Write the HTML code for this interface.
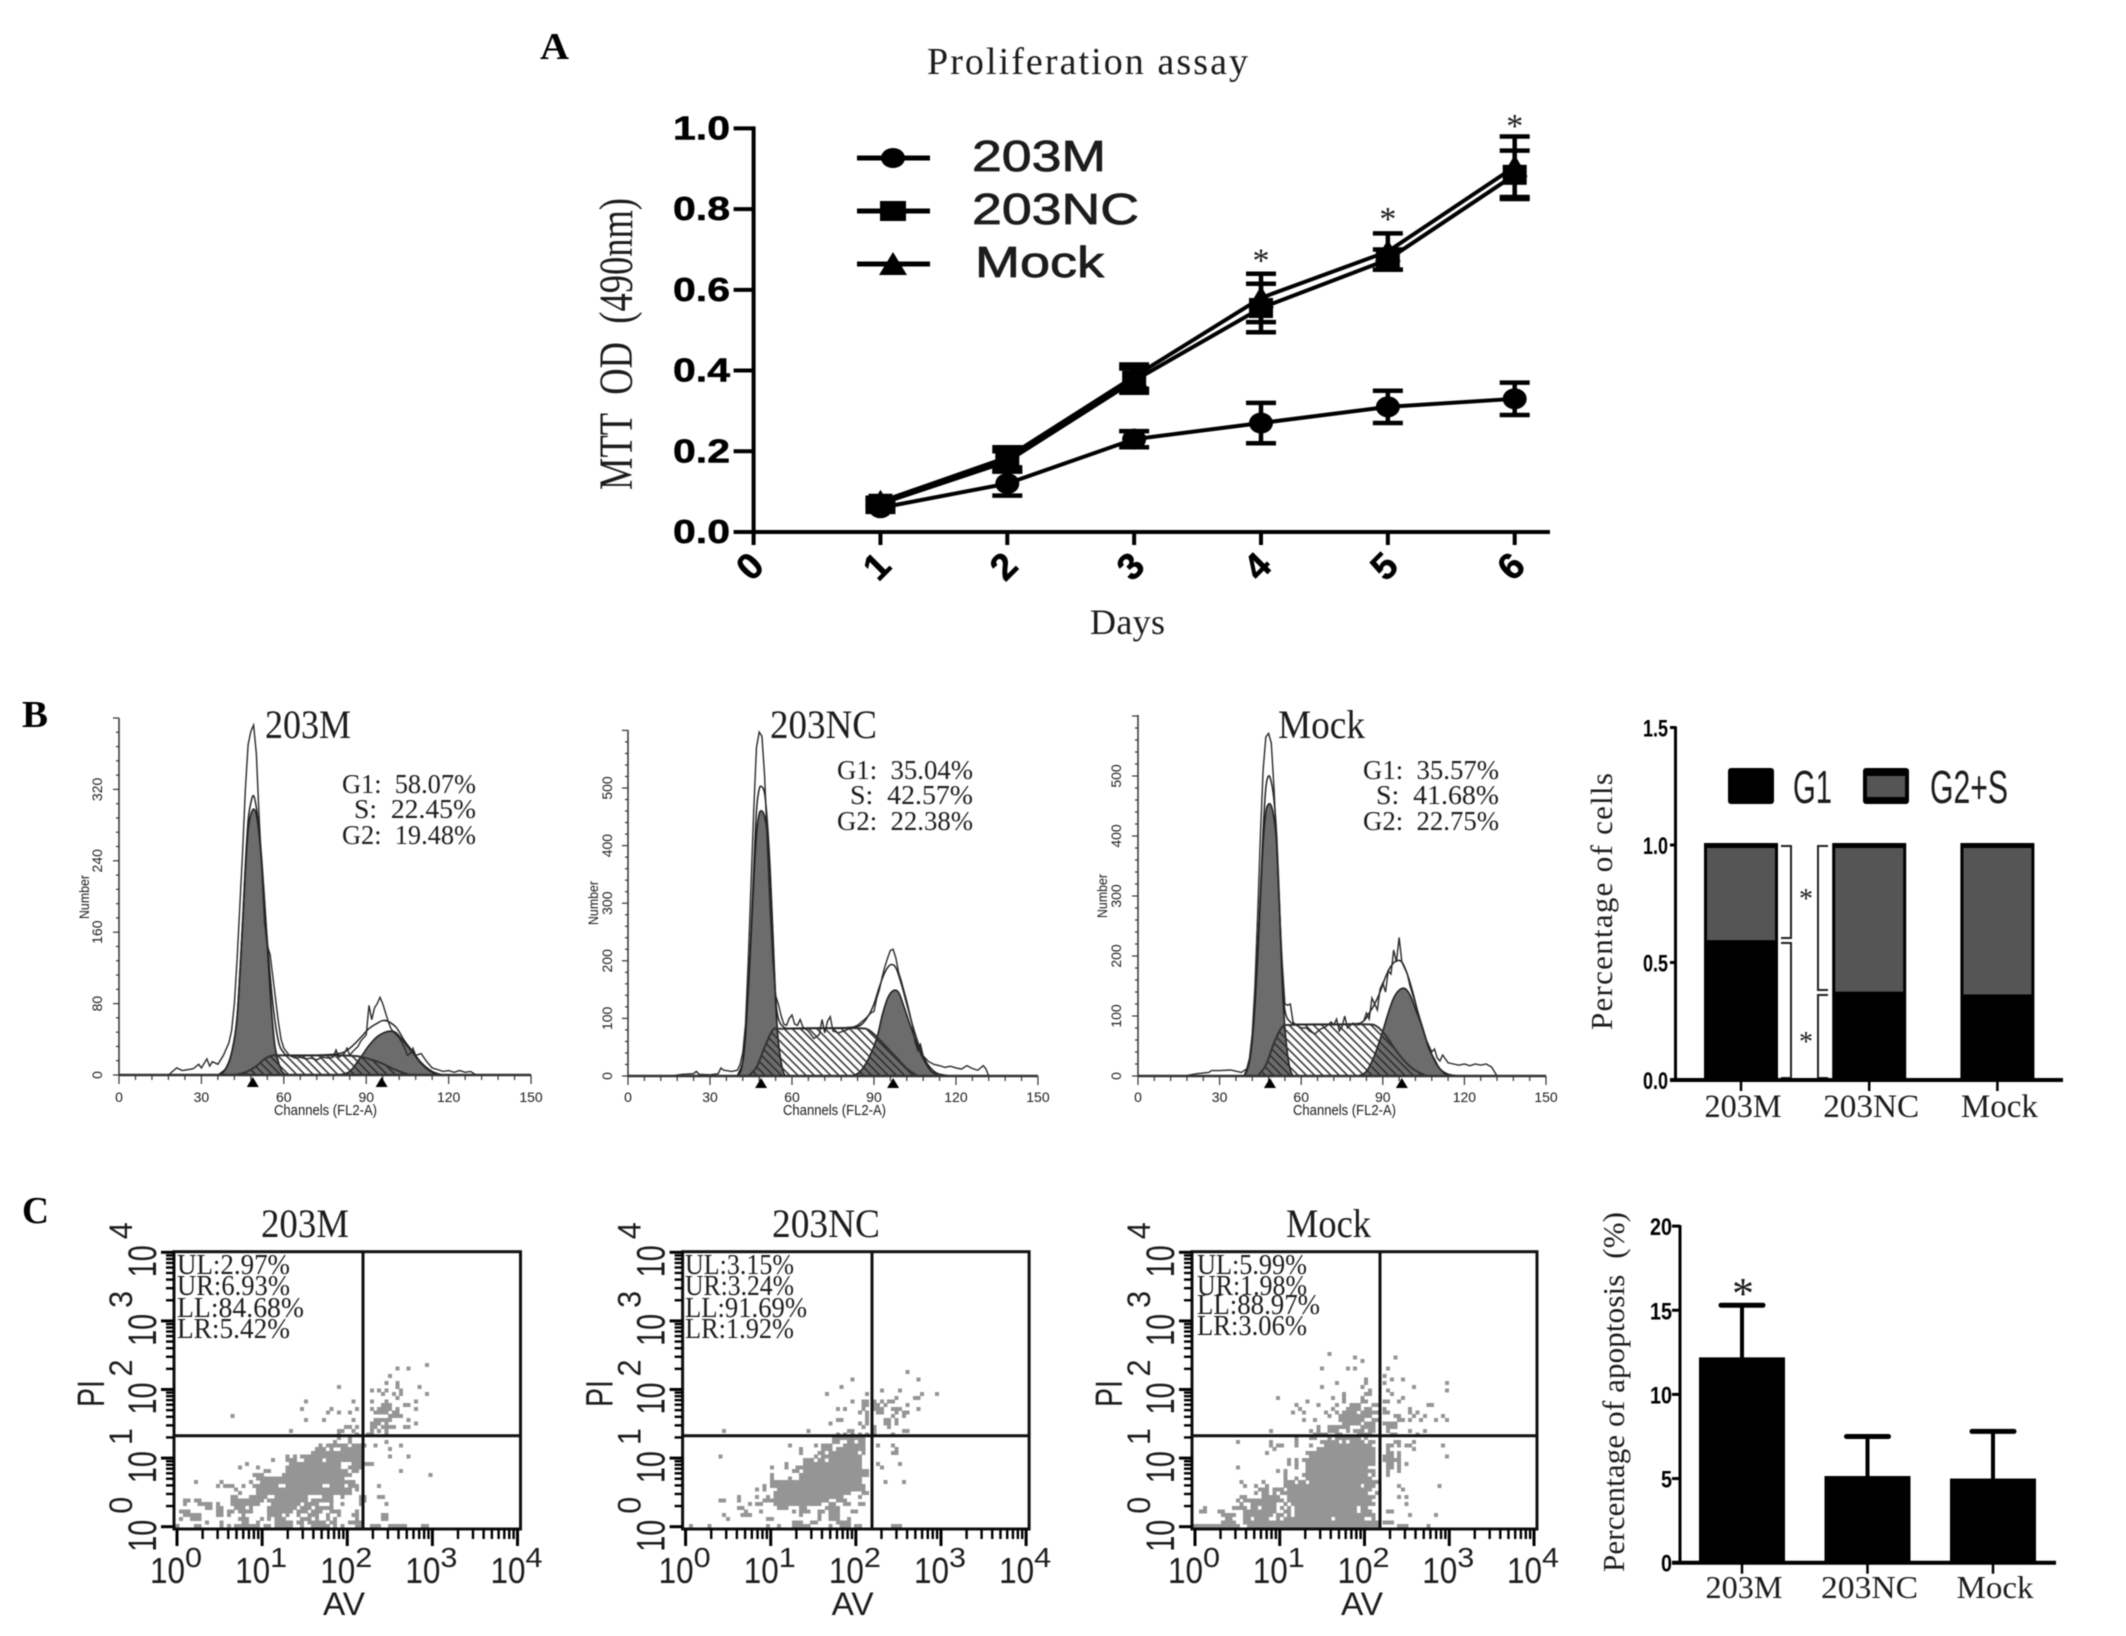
<!DOCTYPE html>
<html lang="en">
<head>
<meta charset="utf-8">
<title>Proliferation, cell cycle and apoptosis figure</title>
<style>
html,body{margin:0;padding:0;background:#fff;}
svg{display:block;filter:blur(0.4px);}
text{font-family:"Liberation Serif","Noto Serif CJK SC",serif;fill:#1c1c1c;}
.sans{font-family:"Liberation Sans","Noto Sans CJK SC",sans-serif;}
.bold{font-family:"Liberation Sans",sans-serif;font-weight:bold;fill:#000;}
.cap{font-family:"Liberation Serif",serif;font-weight:bold;fill:#000;}
</style>
</head>
<body>
<svg id="fig" xmlns="http://www.w3.org/2000/svg" width="2126" height="1636" viewBox="0 0 2126 1636">
<defs>
<pattern id="hatch" patternUnits="userSpaceOnUse" width="5.8" height="5.8" patternTransform="rotate(-45)">
<line x1="1" y1="0" x2="1" y2="5.8" stroke="#2a2a2a" stroke-width="1.5"/>
</pattern>
</defs>
<rect x="0" y="0" width="2126" height="1636" fill="#fff"/>

<!-- panel letters -->
<text class="cap" x="540" y="59" font-size="38" textLength="29" lengthAdjust="spacingAndGlyphs">A</text>
<text class="cap" x="22" y="727" font-size="38" textLength="26" lengthAdjust="spacingAndGlyphs">B</text>
<text class="cap" x="22" y="1223" font-size="38" textLength="27" lengthAdjust="spacingAndGlyphs">C</text>

<!-- panel A text -->
<text x="927" y="74" font-size="38" textLength="321" lengthAdjust="spacing">Proliferation assay</text>
<text x="1090" y="634" font-size="36" textLength="75" lengthAdjust="spacing">Days</text>
<text transform="translate(632,490) rotate(-90)" font-size="48" textLength="292" lengthAdjust="spacingAndGlyphs">MTT&#160;&#160;OD&#160;&#160;(490nm)</text>
<g>
<line x1="857" y1="158" x2="930" y2="158" stroke="#000" stroke-width="5"/>
<ellipse cx="893" cy="158" rx="12" ry="10" fill="#000"/>
<text class="sans" x="972" y="171" font-size="44" textLength="134" lengthAdjust="spacingAndGlyphs" stroke="#1c1c1c" stroke-width="0.8">203M</text>
<line x1="857" y1="211" x2="930" y2="211" stroke="#000" stroke-width="5"/>
<rect x="880" y="201" width="26" height="20" fill="#000"/>
<text class="sans" x="972" y="224" font-size="44" textLength="167" lengthAdjust="spacingAndGlyphs" stroke="#1c1c1c" stroke-width="0.8">203NC</text>
<line x1="857" y1="264" x2="930" y2="264" stroke="#000" stroke-width="5"/>
<polygon points="893,252 907,275 879,275" fill="#000"/>
<text class="sans" x="975" y="277" font-size="44" textLength="129" lengthAdjust="spacingAndGlyphs" stroke="#1c1c1c" stroke-width="0.8">Mock</text>
</g>

<!-- panel B text -->
<text x="265" y="738" font-size="40" textLength="86" lengthAdjust="spacingAndGlyphs">203M</text>
<text x="770" y="738" font-size="40" textLength="107" lengthAdjust="spacingAndGlyphs">203NC</text>
<text x="1278" y="738" font-size="40" textLength="87" lengthAdjust="spacingAndGlyphs">Mock</text>
<g font-size="27">
<text x="342" y="793" textLength="134" lengthAdjust="spacingAndGlyphs">G1:&#160;&#160;58.07%</text>
<text x="354" y="818" textLength="122" lengthAdjust="spacingAndGlyphs">S:&#160;&#160;22.45%</text>
<text x="342" y="844" textLength="134" lengthAdjust="spacingAndGlyphs">G2:&#160;&#160;19.48%</text>
</g>
<g font-size="27">
<text x="837" y="779" textLength="136" lengthAdjust="spacingAndGlyphs">G1:&#160;&#160;35.04%</text>
<text x="850" y="804" textLength="123" lengthAdjust="spacingAndGlyphs">S:&#160;&#160;42.57%</text>
<text x="837" y="830" textLength="136" lengthAdjust="spacingAndGlyphs">G2:&#160;&#160;22.38%</text>
</g>
<g font-size="27">
<text x="1363" y="779" textLength="136" lengthAdjust="spacingAndGlyphs">G1:&#160;&#160;35.57%</text>
<text x="1376" y="804" textLength="123" lengthAdjust="spacingAndGlyphs">S:&#160;&#160;41.68%</text>
<text x="1363" y="830" textLength="136" lengthAdjust="spacingAndGlyphs">G2:&#160;&#160;22.75%</text>
</g>
<text transform="translate(1612,1030) rotate(-90)" font-size="31" textLength="257" lengthAdjust="spacing">Percentage&#160;of&#160;cells</text>
<g>
<rect x="1728" y="768" width="46" height="36" rx="3" fill="#000"/>
<text class="sans" x="1793" y="803" font-size="46" textLength="39" lengthAdjust="spacingAndGlyphs">G1</text>
<rect x="1863" y="768" width="46" height="36" rx="3" fill="#000"/>
<rect x="1867" y="776" width="38" height="21" fill="#555"/>
<text class="sans" x="1930" y="803" font-size="46" textLength="78" lengthAdjust="spacingAndGlyphs">G2+S</text>
</g>
<g fill="none" stroke="#222" stroke-width="2">
<path d="M1781 846H1791V938H1781"/>
<path d="M1781 943H1791V1078H1781"/>
<path d="M1828 846H1818V990H1828"/>
<path d="M1828 995H1818V1078H1828"/>
</g>
<text x="1806" y="908" font-size="28" text-anchor="middle">*</text>
<text x="1806" y="1051" font-size="28" text-anchor="middle">*</text>

<!-- panel C text -->
<text x="261" y="1237" font-size="40" textLength="88" lengthAdjust="spacingAndGlyphs">203M</text>
<text x="772" y="1237" font-size="40" textLength="108" lengthAdjust="spacingAndGlyphs">203NC</text>
<text x="1286" y="1237" font-size="40" textLength="85" lengthAdjust="spacingAndGlyphs">Mock</text>
<g font-size="28">
<text x="177" y="1274" textLength="113" lengthAdjust="spacingAndGlyphs">UL:2.97%</text>
<text x="177" y="1295" textLength="113" lengthAdjust="spacingAndGlyphs">UR:6.93%</text>
<text x="177" y="1317" textLength="127" lengthAdjust="spacingAndGlyphs">LL:84.68%</text>
<text x="177" y="1338" textLength="113" lengthAdjust="spacingAndGlyphs">LR:5.42%</text>
</g>
<g font-size="28">
<text x="685" y="1274" textLength="109" lengthAdjust="spacingAndGlyphs">UL:3.15%</text>
<text x="685" y="1295" textLength="109" lengthAdjust="spacingAndGlyphs">UR:3.24%</text>
<text x="685" y="1317" textLength="122" lengthAdjust="spacingAndGlyphs">LL:91.69%</text>
<text x="685" y="1338" textLength="109" lengthAdjust="spacingAndGlyphs">LR:1.92%</text>
</g>
<g font-size="28">
<text x="1197" y="1274" textLength="110" lengthAdjust="spacingAndGlyphs">UL:5.99%</text>
<text x="1197" y="1295" textLength="110" lengthAdjust="spacingAndGlyphs">UR:1.98%</text>
<text x="1197" y="1314" textLength="123" lengthAdjust="spacingAndGlyphs">LL:88.97%</text>
<text x="1197" y="1335" textLength="110" lengthAdjust="spacingAndGlyphs">LR:3.06%</text>
</g>
<text transform="translate(1624,1572) rotate(-90)" font-size="31" textLength="360" lengthAdjust="spacing">Percentage&#160;of&#160;apoptosis&#160;&#160;(%)</text>
<text x="1743" y="1308" font-size="44" text-anchor="middle">*</text>
</svg>

<script>
/* ---------- Panel A: proliferation line chart ---------- */
const days = [1, 2, 3, 4, 5, 6];
const aYTicks = [0, 0.2, 0.4, 0.6, 0.8, 1.0];
const aXTicks = [0, 1, 2, 3, 4, 5, 6];
const mean203M = [0.06, 0.12, 0.23, 0.27, 0.31, 0.33];
const err203M = [0.01, 0.03, 0.02, 0.05, 0.04, 0.04];
const mean203NC = [0.07, 0.175, 0.375, 0.555, 0.675, 0.885];
const err203NC = [0.01, 0.025, 0.03, 0.06, 0.025, 0.06];
const meanMock = [0.075, 0.185, 0.385, 0.58, 0.695, 0.905];
const errMock = [0.01, 0.025, 0.03, 0.06, 0.045, 0.075];
const starDays = [4, 5, 6];
const starValues = [0.685, 0.788, 1.018];

/* ---------- Panel B: cycle histograms, [channel, count] ---------- */
const cycleXTicks = [0, 30, 60, 90, 120, 150];
const cycle1YTicks = [0, 80, 160, 240, 320];
const cycle2YTicks = [0, 100, 200, 300, 400, 500];
const cycle3YTicks = [0, 100, 200, 300, 400, 500];
const cycle1Peaks = [48.7, 95.6];
const cycle2Peaks = [48.7, 97];
const cycle3Peaks = [48.5, 97];

const h1G1 = [[37,0],[39,8],[41,25],[43,65],[45,170],[46,230],[47,275],[48,292],[49,298],[50,292],[51,270],[52,235],[53,190],[54,145],[55,95],[56,55],[57,28],[59,6],[61,0]];
const h1S = [[42,0],[46,3],[50,10],[53,18],[56,22],[60,22],[70,22],[80,22],[87,21],[91,18],[95,14],[99,8],[103,3],[106,0]];
const h1G2 = [[80,0],[84,4],[88,20],[91,33],[94,43],[97,48],[99,49],[101,47],[104,36],[107,25],[110,13],[114,3],[118,0]];
const h1Fit = [[36,0],[39,8],[41,25],[43,65],[45,170],[46,235],[47,285],[48,305],[49,313],[50,300],[51,275],[52,240],[53,195],[54,150],[56,80],[58,38],[60,25],[62,22],[70,22],[80,24],[84,30],[88,42],[91,52],[94,58],[96,61],[98,60],[101,53],[104,38],[107,26],[110,14],[114,4],[118,0]];
const h1Raw = [[18,0],[21,8],[23,5],[25,6],[27,7],[29,12],[30,8],[32,18],[33,10],[34,15],[36,12],[38,22],[40,36],[41,50],[42,80],[43,130],[44,190],[45,250],[46,320],[47,370],[48,385],[49,392],[50,360],[51,290],[52,230],[53,170],[54,145],[55,135],[56,110],[57,85],[58,60],[59,40],[60,30],[62,22],[64,19],[66,20],[68,18],[70,19],[72,17],[74,20],[76,19],[78,20],[79,28],[80,20],[82,24],[83,30],[84,22],[85,26],[87,32],[88,38],[90,45],[91,78],[92,62],[93,75],[94,80],[95,87],[96,80],[97,70],[98,60],[99,52],[100,48],[102,42],[104,30],[105,22],[106,24],[107,30],[108,22],[110,24],[112,15],[114,8],[116,6],[118,4],[120,5],[122,3],[124,5],[126,3],[128,4],[130,0]];

const h2G1 = [[40,0],[42,25],[43,70],[44,150],[45,240],[46,340],[47,420],[48,455],[49,460],[50,450],[51,420],[52,350],[53,240],[54,130],[55,60],[56,25],[57,5],[58,0]];
const h2S = [[44,0],[47,15],[50,50],[53,80],[56,82],[65,83],[75,83],[85,83],[88,80],[91,68],[95,48],[98,33],[102,13],[106,0]];
const h2G2 = [[82,0],[85,8],[88,30],[91,65],[93,105],[95,135],[97,148],[99,145],[101,120],[103,92],[105,65],[107,40],[109,22],[111,8],[114,0]];
const h2Fit = [[40,0],[42,25],[44,150],[45,250],[46,360],[47,460],[48,498],[49,502],[50,490],[51,440],[52,360],[53,250],[54,140],[55,100],[57,85],[60,82],[70,83],[80,84],[85,88],[88,105],[90,125],[92,155],[94,180],[96,193],[98,188],[100,160],[102,125],[104,90],[106,60],[108,35],[110,18],[113,5],[118,0]];
const h2Raw = [[17,1],[20,3],[24,4],[25,8],[26,3],[30,2],[33,4],[34,14],[35,10],[38,8],[40,10],[41,20],[42,40],[43,90],[44,200],[45,330],[46,460],[47,570],[48,597],[49,590],[50,520],[51,400],[52,290],[53,200],[54,140],[55,125],[56,105],[57,90],[58,88],[59,100],[60,106],[61,90],[62,88],[63,98],[64,85],[66,78],[68,65],[70,72],[71,98],[72,75],[73,95],[74,103],[75,78],[77,75],[79,78],[81,82],[84,88],[87,100],[89,110],[90,112],[91,135],[92,150],[93,172],[94,190],[95,205],[96,218],[97,220],[98,205],[99,180],[100,165],[102,130],[104,90],[105,60],[106,45],[107,55],[108,35],[110,25],[112,20],[114,18],[116,15],[118,17],[120,14],[122,12],[124,18],[126,13],[128,10],[130,18],[131,12],[132,0]];

const h3G1 = [[39,0],[41,25],[42,60],[43,120],[44,200],[45,300],[46,390],[47,440],[48,453],[49,450],[50,430],[51,385],[52,280],[53,160],[54,80],[55,35],[56,10],[57,0]];
const h3S = [[44,0],[47,18],[50,55],[53,82],[56,85],[65,86],[75,86],[85,86],[88,82],[91,68],[94,48],[97,30],[101,12],[106,0]];
const h3G2 = [[81,0],[84,8],[87,35],[90,75],[92,105],[94,130],[96,143],[98,146],[100,135],[102,112],[104,88],[106,60],[108,36],[110,18],[113,3],[115,0]];
const h3Fit = [[39,0],[41,25],[43,120],[45,310],[46,410],[47,480],[48,500],[49,490],[50,460],[51,400],[52,290],[53,170],[54,110],[56,90],[60,86],[70,86],[80,87],[83,92],[85,105],[87,120],[89,140],[91,165],[93,183],[95,192],[97,190],[99,170],[101,140],[103,105],[105,75],[107,45],[109,28],[111,12],[114,3],[118,0]];
const h3Raw = [[18,1],[22,4],[26,6],[27,9],[30,9],[34,10],[38,6],[40,12],[41,30],[42,70],[43,150],[44,270],[45,400],[46,510],[47,565],[48,571],[49,555],[50,480],[51,380],[52,280],[53,190],[54,120],[55,118],[56,120],[57,90],[58,85],[60,80],[62,80],[63,75],[65,70],[67,78],[69,82],[71,90],[72,85],[73,95],[74,75],[75,82],[76,100],[77,80],[79,88],[81,85],[83,92],[84,105],[85,95],[86,130],[87,120],[88,110],[89,145],[90,155],[91,140],[92,175],[93,170],[94,210],[95,190],[96,231],[97,190],[98,180],[99,170],[100,150],[102,120],[104,90],[106,60],[108,40],[109,45],[110,30],[111,25],[112,35],[114,22],[116,20],[118,18],[120,20],[122,17],[124,20],[126,18],[128,20],[130,15],[132,0]];

/* ---------- Panel B: stacked bars ---------- */
const stackCategories = ['203M', '203NC', 'Mock'];
const stackG1 = [0.595, 0.376, 0.364];
const stackTotal = [1, 1, 1];
const stackYTicks = [0, 0.5, 1.0, 1.5];
const stackYLabels = ['0.0', '0.5', '1.0', '1.5'];

/* ---------- Panel C: flow scatter bins, "row:col,col-col" ---------- */
const decades = [0, 1, 2, 3, 4];
const scatter1Bins = [
"0:2,7-8,14,16,18-24,26-27,29-33,36,39-43,45,47,51-52,55-57,60-64,69-70",
"1:10,14,20-21,24,29-33,35-36,38-42,44-45,49-52",
"2:3,6-8,19-21,25,27,29-31,36-38,40,43,45,51,58-59",
"3:4-8,13-14,16,20,27-30,32,35,38-40,43,46,50-51,58-59",
"4:3-5,13-14,16-17,19-22,27-33,35-37,39-41,44-46,51",
"5:10-11,13-14,18-20,22,27-34,36-38,40-44",
"6:4,8-11,13,17-24,28-35,37-40,44,47,52,59",
"7:4-5,7-8,17-25,27-37,39-44,52-53",
"8:17-18,22-26,29-37,42-44,47,52-53,57-58",
"9:19,24-49",
"10:18,24-49,51",
"11:13,15-17,20,23-29,32-41,44-47,49-51,57",
"12:7,14,22,25-50",
"13:24-47",
"14:23-25,31-49,71",
"15:26-27,32-48,50-51,63",
"16:19,24,32-46,49-52",
"17:21,33-46,50-55",
"18:28,32-34,37-41,43-52",
"19:32,34,36-38,39-52,60,65",
"20:39-52",
"21:40-42,44,47-50,51-52,60",
"22:41,43-48,50-52,53,56,63",
"23:45,49,59",
"24:46,49",
"25:46,51,54-55,59",
"26:33,46-47,50,55,57,59",
"27:48-49,51,55-56,58-61,64-65",
"28:55-57,59,67",
"29:37,42,50,56-60,65",
"30:60-63,17",
"31:43,46,49,56-59,61-62",
"32:36,44,51,55,57-60,62,67",
"33:58-60,64-65",
"34:37,50,55,59,67",
"35:62",
"36:58,61,63,70",
"37:55,57,59,63",
"38:46,62,68",
"39:59,62",
"41:60",
"43:62,65",
"44:70"
];
const scatter2Bins = [
"0:3,8,24,27,31-35,41,44-46,48-49,58-60",
"1:31-33,36-37,43-46",
"2:13,24-25,38,41-43,46",
"3:12,17-19,33,38,41-43",
"4:18,22,31,33-35,38-39,41-43,47-48",
"5:16-17,27-29,33-34,40-43",
"6:19,21-22,26-38,41-42,45-46,49-50",
"7:11-12,16,23-40,43-45",
"8:16,21,24,26-44,49",
"9:26-46,50-51",
"10:21,23,27-50",
"11:23,25-50",
"12:25-49,56,61",
"13:25,30,33-49",
"14:25,33-51",
"15:31-32,34-51",
"16:25,29,32-49,55",
"17:29,34-49,54,60",
"18:34-36,38-39,41-49",
"19:11,37,39-49",
"20:33,38-39,41-48,50,58-59",
"21:33,39-41,43-50,59",
"22:30,37,39-41,45-50,54,58",
"23:42-43,46-47,49-50",
"24:42-50",
"25:43,45,47,49,51,53,58",
"26:12,35,46-47,53,61-62",
"27:50,53,57",
"28:41,49,51,56-57,59",
"29:43-44,51,56-57,59",
"30:51,58,61",
"31:49,51,54-55,59,61-62",
"32:43,45,50,53-55,58-60,65",
"33:50-51,53-54,56,62",
"34:47,50-51,53,55,57-58",
"35:59,64-65",
"36:40,51,66,70",
"37:55,60",
"38:44",
"40:47,65",
"42:62"
];
const scatter3Bins = [
"0:1-13,16-51,57-59,65",
"1:9-12,15-45,46-51,53-55",
"2:10-11,15-16,18-21,24,26-38,40-47,50",
"3:9-12,15-22,24-25,27,29-50,60,67",
"4:3-4,8-9,15-23,26-27,29-45,47-49,54-55",
"5:4,12-15,17-18,20-23,25,27,29-45,47-48",
"6:14,17-23,26,28-50,59",
"7:13,15-23,24-25,27-48,49",
"8:14-15,20-24,27-50,57,59",
"9:18,20-21,23,25-48,51",
"10:19-21,23-25,27-49,58",
"11:15,18,21,26-46,48-50,57,68",
"12:14,20,26-28,30-31,33-51",
"13:26,29,32-49",
"14:26,31-48,50,54",
"15:24,26,32-50,54,57",
"16:13,29,32-48,54-55,57",
"17:27,29,32-50,54-55,57,59",
"18:27,29,31-50,53-57",
"19:33-50,53-55,57,70",
"20:21,32-50,54-55,57",
"21:23,35-50,54,61",
"22:22,24-25,29,33,37-48,49,54-55,57,59-60,69",
"23:13,22,29,36-40,42,44-47,49-50,56-57,61",
"24:29,33,34,38,40-46,48",
"25:34-37,40-41,46-49,55-56,62",
"26:22,33,35,38-40,43,45-47,49-50,54,60,64",
"27:35,38-43,47-50,54-56",
"28:42-46,48-50,53-56",
"29:31,34,41-47,50-51,57-58,60,63,67,70",
"30:38,41-49,56-57,61,64,69",
"31:28,31,37,40,42-45,47-51,53-54,60,62",
"32:30,39,43-46,48-49,53,60",
"33:29,35,40,44-46,50-51,65-66",
"34:32,42,47-48,53-54,57",
"35:24,39,42,47,58",
"36:42,48-49,55",
"37:49,54,70",
"38:36,47,61",
"39:40,48,53,70",
"40:48,55,58",
"41:53",
"43:36,43,45,54",
"45:47",
"46:45,56",
"47:38"
];

/* ---------- Panel C: apoptosis bars ---------- */
const apoCategories = ['203M', '203NC', 'Mock'];
const apoValues = [12.2, 5.15, 5.0];
const apoErrorTops = [15.3, 7.5, 7.8];
const apoYTicks = [0, 5, 10, 15, 20];

/* ---------- helpers ---------- */
const NS = 'http://www.w3.org/2000/svg';
const fig = document.getElementById('fig');
function mk(parent, tag, attrs, content) {
  const node = document.createElementNS(NS, tag);
  for (const k in attrs) node.setAttribute(k, attrs[k]);
  if (content !== undefined) node.textContent = content;
  parent.appendChild(node);
  return node;
}
function smooth(pts) {
  let d = 'M' + pts[0][0] + ' ' + pts[0][1];
  for (let i = 0; i < pts.length - 1; i++) {
    const p0 = pts[Math.max(i - 1, 0)], p1 = pts[i], p2 = pts[i + 1], p3 = pts[Math.min(i + 2, pts.length - 1)];
    d += ' C' + (p1[0] + (p2[0] - p0[0]) / 6) + ' ' + (p1[1] + (p2[1] - p0[1]) / 6) + ' ' + (p2[0] - (p3[0] - p1[0]) / 6) + ' ' + (p2[1] - (p3[1] - p1[1]) / 6) + ' ' + p2[0] + ' ' + p2[1];
  }
  return d;
}
function straight(pts) {
  return 'M' + pts.map(p => p[0] + ' ' + p[1]).join(' L');
}

/* ---------- draw panel A ---------- */
(function drawA() {
  const ax = d => 753.6 + d * 126.85;
  const ay = v => 532 - v * 403.6;
  const g = mk(fig, 'g', {});
  
  
  const yAxis = mk(g, 'line', {x1: ax(0), y1: ay(1) - 2, x2: ax(0), y2: ay(0) + 2, stroke: '#000', 'stroke-width': 4});
  
  
  const xAxis = mk(g, 'line', {x1: ax(0) - 2, y1: ay(0), x2: 1550, y2: ay(0), stroke: '#000', 'stroke-width': 4});
  
  
  aYTicks.forEach(v => {
    const t = mk(g, 'line', {x1: ax(0) - 20, y1: ay(v), x2: ax(0), y2: ay(v), stroke: '#000', 'stroke-width': 4});
    
    
    const l = mk(g, 'text', {x: 673, y: ay(v) + 11, class: 'bold', 'font-size': 33, textLength: 57, lengthAdjust: 'spacingAndGlyphs', stroke: '#000', 'stroke-width': 0.5}, v.toFixed(1));
    
    
  });
  aXTicks.forEach(d => {
    const t = mk(g, 'line', {x1: ax(d), y1: ay(0), x2: ax(d), y2: ay(0) + 13, stroke: '#000', 'stroke-width': 4});
    
    
    const l = mk(g, 'text', {transform: 'translate(' + (ax(d) - 4) + ',566) rotate(-45)', class: 'bold', 'font-size': 37, 'text-anchor': 'middle', dy: 13, stroke: '#000', 'stroke-width': 0.6}, String(d));
    
    
  });
  function series(name, means, errs, marker) {
    const sg = mk(g, 'g', {});
    
    
    const ln = mk(sg, 'path', {d: straight(days.map((d, i) => [ax(d), ay(means[i])])), fill: 'none', stroke: '#000', 'stroke-width': 4});
    
    
    days.forEach((d, i) => {
      const hi = ay(means[i] + errs[i]), lo = ay(means[i] - errs[i]), x = ax(d), y = ay(means[i]);
      const e = mk(sg, 'path', {d: 'M' + (x - 15) + ' ' + hi + 'H' + (x + 15) + 'M' + x + ' ' + hi + 'V' + lo + 'M' + (x - 15) + ' ' + lo + 'H' + (x + 15), fill: 'none', stroke: '#000', 'stroke-width': 4.5});
      
      
      let m;
      if (marker === 'circle') m = mk(sg, 'ellipse', {cx: x, cy: y, rx: 12, ry: 10.5, fill: '#000'});
      else if (marker === 'square') m = mk(sg, 'rect', {x: x - 12, y: y - 10, width: 24, height: 20, fill: '#000'});
      else m = mk(sg, 'polygon', {points: x + ',' + (y - 12) + ' ' + (x + 13) + ',' + (y + 10) + ' ' + (x - 13) + ',' + (y + 10), fill: '#000'});
      
      
    });
  }
  series('203m', mean203M, err203M, 'circle');
  series('mock', meanMock, errMock, 'triangle');
  series('203nc', mean203NC, err203NC, 'square');
  starDays.forEach((d, i) => {
    const s = mk(g, 'text', {x: ax(d), y: ay(starValues[i]) + 16, 'font-size': 34, 'text-anchor': 'middle'}, '*');
    
    
  });
})();

/* ---------- draw panel B histograms ---------- */
function drawHist(name, x0, sx, base, sy, top, majorY, minorY, labelX, numberX, numberY, yTicks, peaks, G1, S, G2, Fit, Raw) {
  const hx = c => x0 + c * sx;
  const hy = n => base - n * sy;
  const g = mk(fig, 'g', {});
  
  
  const toPts = arr => arr.map(p => [hx(p[0]), hy(p[1])]);
  const closed = arr => smooth(toPts(arr)) + ' Z';
  const g1 = mk(g, 'path', {d: closed(G1), fill: '#6c6c6c', stroke: '#222', 'stroke-width': 1.6});
  
  
  const g2 = mk(g, 'path', {d: closed(G2), fill: '#6c6c6c', stroke: '#222', 'stroke-width': 1.6});
  
  
  const sArea = mk(g, 'path', {d: closed(S), fill: 'url(#hatch)', stroke: '#333', 'stroke-width': 2});
  
  
  const fit = mk(g, 'path', {d: smooth(toPts(Fit)), fill: 'none', stroke: '#222', 'stroke-width': 1.5});
  
  
  const raw = mk(g, 'path', {d: straight(toPts(Raw)), fill: 'none', stroke: '#2a2a2a', 'stroke-width': 1.4});
  
  
  const yA = mk(g, 'line', {x1: x0, y1: top, x2: x0, y2: base, stroke: '#333', 'stroke-width': 1.5});
  
  
  const xA = mk(g, 'line', {x1: x0, y1: base, x2: hx(150), y2: base, stroke: '#333', 'stroke-width': 2.5});
  
  
  for (let c = 0; c <= 150; c += 6) {
    const major = c % 30 === 0;
    const t = mk(g, 'line', {x1: hx(c), y1: base, x2: hx(c), y2: base + (major ? 9 : 5), stroke: '#333', 'stroke-width': 1.2});
    
    
  }
  for (let n = 0; hy(n) >= top; n += minorY) {
    const t = mk(g, 'line', {x1: x0 - (n % majorY === 0 ? 6 : 3), y1: hy(n), x2: x0, y2: hy(n), stroke: '#333', 'stroke-width': 1.2});
    
    
  }
  cycleXTicks.forEach(c => {
    const l = mk(g, 'text', {x: hx(c), y: 1102, class: 'sans', 'font-size': 14, 'text-anchor': 'middle'}, String(c));
    
    
  });
  yTicks.forEach(n => {
    const l = mk(g, 'text', {transform: 'translate(' + labelX + ',' + hy(n) + ') rotate(-90)', class: 'sans', 'font-size': 14, 'text-anchor': 'middle'}, String(n));
    
    
  });
  const xt = mk(g, 'text', {x: x0 + 155, y: 1115, class: 'sans', 'font-size': 15, textLength: 103, lengthAdjust: 'spacingAndGlyphs'}, 'Channels (FL2-A)');
  
  
  const yt = mk(g, 'text', {transform: 'translate(' + numberX + ',' + numberY + ') rotate(-90)', class: 'sans', 'font-size': 14, textLength: 44, lengthAdjust: 'spacingAndGlyphs'}, 'Number');
  
  
  peaks.forEach(c => {
    const m = mk(g, 'polygon', {points: hx(c) + ',' + (base + 2) + ' ' + (hx(c) + 6) + ',' + (base + 12) + ' ' + (hx(c) - 6) + ',' + (base + 12), fill: '#000'});
    
    
  });
}
drawHist('203m', 119, 2.747, 1075, 0.8925, 718, 80, 16, 102, 89, 919, cycle1YTicks, cycle1Peaks, h1G1, h1S, h1G2, h1Fit, h1Raw);
drawHist('203nc', 628, 2.733, 1076, 0.576, 730, 100, 20, 612, 598, 925, cycle2YTicks, cycle2Peaks, h2G1, h2S, h2G2, h2Fit, h2Raw);
drawHist('mock', 1138, 2.72, 1076, 0.6, 715, 100, 20, 1121, 1107, 918, cycle3YTicks, cycle3Peaks, h3G1, h3S, h3G2, h3Fit, h3Raw);

/* ---------- draw stacked bars ---------- */
(function drawStack() {
  const by = v => 1080 - v * 235;
  const bx = i => 1741 + i * 128.2;
  const g = mk(fig, 'g', {});
  
  
  stackCategories.forEach((c, i) => {
    const frame = mk(g, 'rect', {x: bx(i) - 37, y: by(stackTotal[i]) - 2, width: 74, height: by(0) - by(stackTotal[i]) + 2, fill: '#000'});
    
    
    const gray = mk(g, 'rect', {x: bx(i) - 34, y: by(stackTotal[i]) + 3, width: 68, height: by(stackG1[i]) - by(stackTotal[i]) - 3, fill: '#555'});
    
    
    const t = mk(g, 'line', {x1: bx(i), y1: by(0), x2: bx(i), y2: by(0) + 11, stroke: '#000', 'stroke-width': 2.5});
    
    
    const l = mk(g, 'text', {x: bx(i) + 2, y: 1117, 'font-size': 33, 'text-anchor': 'middle', textLength: i === 1 ? 96 : 77, lengthAdjust: 'spacingAndGlyphs'}, c);
    
    
  });
  const yA = mk(g, 'line', {x1: 1675.5, y1: by(1.5) - 1, x2: 1675.5, y2: by(0) + 2, stroke: '#000', 'stroke-width': 3});
  
  
  const xA = mk(g, 'line', {x1: 1670, y1: by(0), x2: 2063, y2: by(0), stroke: '#000', 'stroke-width': 4});
  
  
  stackYTicks.forEach((v, i) => {
    const t = mk(g, 'line', {x1: 1670, y1: by(v), x2: 1676, y2: by(v), stroke: '#000', 'stroke-width': 3});
    
    
    const l = mk(g, 'text', {x: 1643, y: by(v) + 9, class: 'bold', 'font-size': 24, textLength: 25, lengthAdjust: 'spacingAndGlyphs'}, stackYLabels[i]);
    
    
  });
})();

/* ---------- draw flow scatter panels ---------- */
function drawScatter(name, dx, originX, vLine, width, bins) {
  const left = 174 + dx, top = 1251.7, bottom = 1529, hLine = 1435.7;
  const binX = c => originX + c * 3.667 - 1.8;
  const binY = r => 1526 - r * 3.667 - 1.8;
  const dX = d => left + 3 + d * (width - 6) / 4;
  const dY = d => 1526.7 - d * 68.6;
  const g = mk(fig, 'g', {});
  
  
  const cells = mk(g, 'g', {fill: '#959595', 'shape-rendering': 'crispEdges'});
  
  
  bins.forEach(rowSpec => {
    const parts = rowSpec.split(':');
    const row = +parts[0];
    parts[1].split(',').forEach(range => {
      const ends = range.split('-').map(Number);
      const last = ends.length > 1 ? ends[1] : ends[0];
      for (let c = ends[0]; c <= last; c++) {
        const dot = mk(cells, 'rect', {x: binX(c).toFixed(1), y: binY(row).toFixed(1), width: 4, height: 4});
        
        
      }
    });
  });
  const frame = mk(g, 'rect', {x: left, y: top, width: width, height: bottom - top, fill: 'none', stroke: '#111', 'stroke-width': 3});
  
  
  const v = mk(g, 'line', {x1: vLine, y1: top, x2: vLine, y2: bottom, stroke: '#111', 'stroke-width': 3});
  
  
  const h = mk(g, 'line', {x1: left, y1: hLine, x2: left + width, y2: hLine, stroke: '#111', 'stroke-width': 3});
  
  
  decades.forEach(d => {
    const xt = mk(g, 'line', {x1: dX(d), y1: bottom, x2: dX(d), y2: bottom + 17, stroke: '#000', 'stroke-width': 3});
    
    
    const yt = mk(g, 'line', {x1: left - 13, y1: dY(d), x2: left, y2: dY(d), stroke: '#000', 'stroke-width': 3});
    
    
    if (d < 4) {
      for (let k = 2; k <= 9; k++) {
        const off = Math.log10(k);
        const xm = mk(g, 'line', {x1: dX(d + off), y1: bottom, x2: dX(d + off), y2: bottom + 10, stroke: '#000', 'stroke-width': 2.4});
        
        
        const ym = mk(g, 'line', {x1: left - 8, y1: dY(d + off), x2: left, y2: dY(d + off), stroke: '#000', 'stroke-width': 2.4});
        
        
      }
    }
    const base = mk(g, 'text', {x: dX(d) - 27, y: 1583, class: 'sans', 'font-size': 36, textLength: 35, lengthAdjust: 'spacingAndGlyphs'}, '10');
    
    
    const exp = mk(g, 'text', {x: dX(d) + 8, y: 1567, class: 'sans', 'font-size': 28, textLength: 17, lengthAdjust: 'spacingAndGlyphs'}, String(d));
    
    
    const yb = dY(d) + 25;
    const yBase = mk(g, 'text', {transform: 'translate(' + (156 + dx) + ',' + yb + ') rotate(-90)', class: 'sans', 'font-size': 40, textLength: 32, lengthAdjust: 'spacingAndGlyphs'}, '10');
    
    
    const yExp = mk(g, 'text', {transform: 'translate(' + (132 + dx) + ',' + (yb - 38) + ') rotate(-90)', class: 'sans', 'font-size': 32, textLength: 17, lengthAdjust: 'spacingAndGlyphs'}, String(d));
    
    
  });
  const av = mk(g, 'text', {x: 323 + dx, y: 1615, class: 'sans', 'font-size': 32, textLength: 42, lengthAdjust: 'spacingAndGlyphs'}, 'AV');
  
  
  const pi = mk(g, 'text', {transform: 'translate(' + (104 + dx) + ',1407) rotate(-90)', class: 'sans', 'font-size': 38, textLength: 27, lengthAdjust: 'spacingAndGlyphs'}, 'PI');
  
  
}
drawScatter('203m', 0, 170, 363, 346.5, scatter1Bins);
drawScatter('203nc', 508.6, 680, 872, 346.5, scatter2Bins);
drawScatter('mock', 1018, 1190, 1380, 345, scatter3Bins);

/* ---------- draw apoptosis bars ---------- */
(function drawApo() {
  const cy = v => 1562.7 - v * 16.83;
  const cx = i => 1742 + i * 125.5;
  const g = mk(fig, 'g', {});
  
  
  apoCategories.forEach((c, i) => {
    const err = mk(g, 'path', {d: 'M' + cx(i) + ' ' + cy(apoValues[i]) + 'V' + cy(apoErrorTops[i]) + 'M' + (cx(i) - 21) + ' ' + cy(apoErrorTops[i]) + 'H' + (cx(i) + 21), fill: 'none', stroke: '#000', 'stroke-width': 4, 'stroke-linecap': 'round'});
    
    
    const capLine = mk(g, 'line', {x1: cx(i) - 21, y1: cy(apoErrorTops[i]), x2: cx(i) + 21, y2: cy(apoErrorTops[i]), stroke: '#000', 'stroke-width': 5, 'stroke-linecap': 'round'});
    
    
    const bar = mk(g, 'rect', {x: cx(i) - 43, y: cy(apoValues[i]), width: 86, height: cy(0) - cy(apoValues[i]), fill: '#000'});
    
    
    const t = mk(g, 'line', {x1: cx(i), y1: cy(0), x2: cx(i), y2: cy(0) + 11, stroke: '#000', 'stroke-width': 2.5});
    
    
    const l = mk(g, 'text', {x: cx(i) + 2, y: 1598, 'font-size': 32, 'text-anchor': 'middle', textLength: i === 1 ? 97 : 77, lengthAdjust: 'spacingAndGlyphs'}, c);
    
    
  });
  const yA = mk(g, 'line', {x1: 1680, y1: cy(20) - 1, x2: 1680, y2: cy(0), stroke: '#000', 'stroke-width': 3});
  
  
  const xA = mk(g, 'line', {x1: 1672, y1: cy(0), x2: 2056, y2: cy(0), stroke: '#000', 'stroke-width': 4});
  
  
  apoYTicks.forEach(v => {
    const t = mk(g, 'line', {x1: 1672, y1: cy(v), x2: 1680, y2: cy(v), stroke: '#000', 'stroke-width': 3});
    
    
    const wide = v >= 10;
    const l = mk(g, 'text', {x: wide ? 1650 : 1661, y: cy(v) + 9, class: 'bold', 'font-size': 24, textLength: wide ? 22 : 11, lengthAdjust: 'spacingAndGlyphs'}, String(v));
    
    
  });
})();
</script>
</body>
</html>
